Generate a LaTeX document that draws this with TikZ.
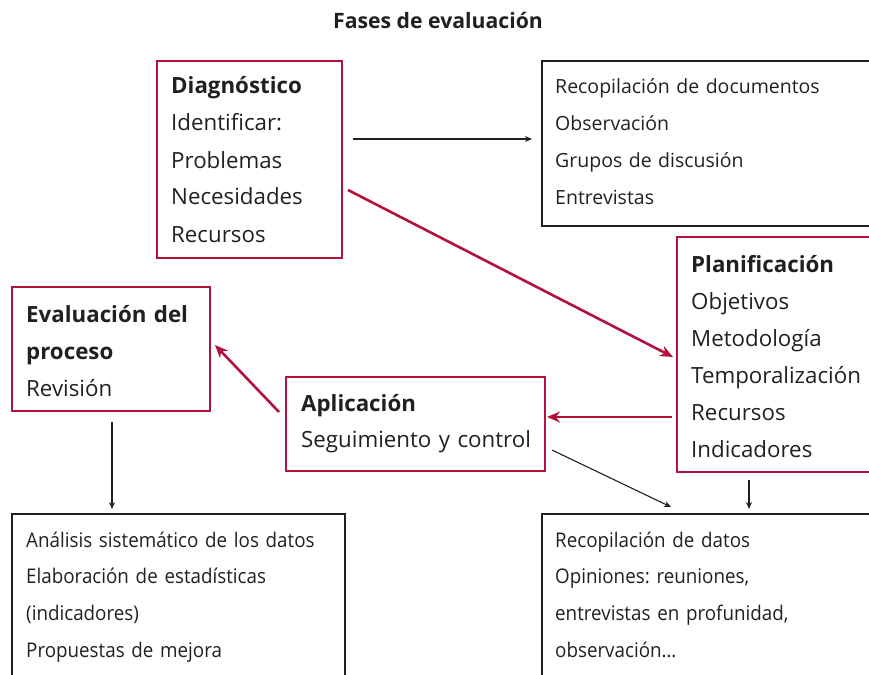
\documentclass[tikz,border=0pt]{standalone}
\usepackage{fontspec}
\setmainfont{Open Sans}
\newfontfamily\condfont[FakeStretch=0.93]{Open Sans}
\usetikzlibrary{arrows.meta}
\definecolor{rojo}{RGB}{178,18,60}
\definecolor{gris}{RGB}{35,31,32}
\frenchspacing

\begin{document}
\begin{tikzpicture}[
    x=1pt, y=-1pt,
    redbox/.style={draw=rojo, line width=2.6pt, anchor=north west, inner sep=0, outer sep=0},
    greybox/.style={draw=gris, line width=1.2pt, anchor=north west, inner sep=0, outer sep=0},
    txt/.style={anchor=base west, inner sep=0, align=left, text width=330pt, text=gris, font=\fontsize{22.3}{37}\selectfont},
    smalltxt/.style={txt, font=\fontsize{19.5}{36.7}\selectfont},
    condtxt/.style={txt, font=\condfont\fontsize{20.2}{36.7}\selectfont},
    redarrow/.style={draw=rojo, line width=2.6pt, -{Stealth[length=13pt, width=11pt]}},
    blackarrow/.style={draw=gris, line width=1.1pt, -{Stealth[length=7pt, width=6pt]}}
]
\useasboundingbox (0,0) rectangle (869,674);
\clip (0,0) rectangle (869,674);

% Title
\node[anchor=base, text=gris, font=\bfseries\fontsize{21.2}{24}\selectfont] (titulo) at (438,29) {Fases de evaluación};

% Phases
\node[redbox, minimum width=185pt, minimum height=197pt] (diag) at (157,61) {};
\node[txt] (diagt) at ([shift={(14,33)}]diag.north west) {\textbf{Diagnóstico}\\Identificar:\\Problemas\\Necesidades\\Recursos};
\node[redbox, minimum width=210pt, minimum height=235pt] (planif) at (677,237) {};
\node[txt] (planift) at ([shift={(14,35)}]planif.north west) {\textbf{Planificación}\\Objetivos\\Metodología\\Temporalización\\Recursos\\Indicadores};
\node[redbox, minimum width=259pt, minimum height=94pt] (aplic) at (286,377) {};
\node[txt, font=\fontsize{22.3}{36}\selectfont] (aplict) at ([shift={(15,34)}]aplic.north west) {\textbf{Aplicación}\\Seguimiento y control};
\node[redbox, minimum width=198pt, minimum height=124pt] (eval) at (12,287) {};
\node[txt] (evalt) at ([shift={(14,35)}]eval.north west) {\textbf{Evaluación del}\\\textbf{proceso}\\Revisión};

% Tools
\node[greybox, minimum width=345pt, minimum height=165pt] (recop) at (542,61) {};
\node[smalltxt] (recopt) at ([shift={(13,33)}]recop.north west) {Recopilación de documentos\\Observación\\Grupos de discusión\\Entrevistas};
\node[greybox, minimum width=333pt, minimum height=180pt] (analisis) at (12,514) {};
\node[condtxt] (analisist) at ([shift={(14,33)}]analisis.north west) {Análisis sistemático de los datos\\Elaboración de estadísticas\\(indicadores)\\Propuestas de mejora};
\node[greybox, minimum width=345pt, minimum height=180pt] (datos) at (542,514) {};
\node[condtxt] (datost) at ([shift={(13,33)}]datos.north west) {Recopilación de datos\\Opiniones: reuniones,\\entrevistas en profunidad,\\observación…};

% Arrows
\draw[blackarrow] ([shift={(11,78)}]diag.north east) -- ([shift={(-10,78)}]recop.north west);
\draw[redarrow] ([shift={(6,129)}]diag.north east) -- ([shift={(-4,120)}]planif.north west);
\draw[redarrow] ([shift={(-5,180)}]planif.north west) -- ([shift={(2,40)}]aplic.north east);
\draw[redarrow] ([shift={(-7,35)}]aplic.north west) -- ([shift={(5,58)}]eval.north east);
\draw[blackarrow] ([shift={(7,73)}]aplic.north east) -- ([shift={(129,-7)}]datos.north west);
\draw[blackarrow] ([shift={(72,8)}]planif.south west) -- ([shift={(207,-5)}]datos.north west);
\draw[blackarrow] ([shift={(100,11)}]eval.south west) -- ([shift={(100,-5)}]analisis.north west);
\end{tikzpicture}
\end{document}
